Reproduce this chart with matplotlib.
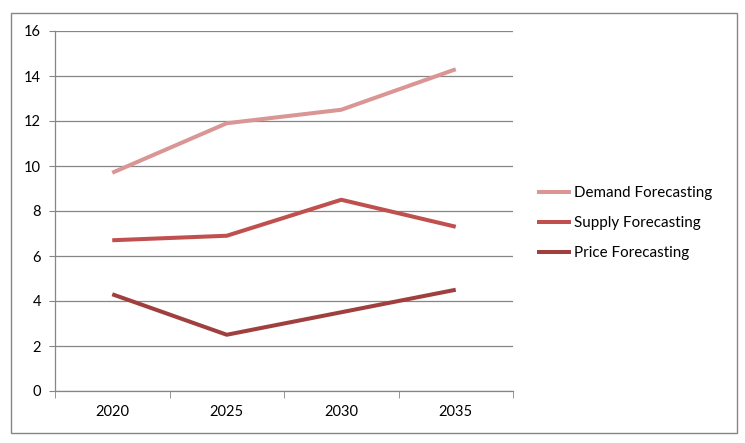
import matplotlib
matplotlib.use("Agg")
import matplotlib.pyplot as plt
from matplotlib.patches import Rectangle

years = ['2020', '2025', '2030', '2035']
demand = [9.7, 11.9, 12.5, 14.3]
supply = [6.7, 6.9, 8.5, 7.3]
price = [4.3, 2.5, 3.5, 4.5]
yticks = [0, 2, 4, 6, 8, 10, 12, 14, 16]

plt.rcParams['font.family'] = ['Lato', 'DejaVu Sans']
grey = '#868686'

fig = plt.figure(figsize=(7.45, 4.43), dpi=100)
# chart border
fig.patches.append(Rectangle((11 / 745, 10 / 443), 726 / 745, 420 / 443,
                             transform=fig.transFigure, fill=False,
                             edgecolor=grey, linewidth=1.0))

ax = fig.add_axes([55 / 745, 52 / 443, 458 / 745, 360 / 443])
x = range(len(years))
ax.plot(x, demand, color='#D99694', lw=2.9, label='Demand Forecasting', solid_capstyle='butt')
ax.plot(x, supply, color='#C0504D', lw=2.9, label='Supply Forecasting', solid_capstyle='butt')
ax.plot(x, price, color='#A0403E', lw=2.9, label='Price Forecasting', solid_capstyle='butt')

ax.set_xlim(-0.5, 3.5)
ax.set_ylim(0, 16)
ax.set_yticks(yticks)
ax.set_yticklabels([str(v) for v in yticks])
ax.set_xticks(list(x))
ax.set_xticklabels(years)
ax.set_xticks([-0.5, 0.5, 1.5, 2.5, 3.5], minor=True)
ax.tick_params(axis='x', which='major', length=0, pad=10, labelsize=10.5)
ax.tick_params(axis='x', which='minor', length=5, color=grey, direction='out')
ax.tick_params(axis='y', length=4, color=grey, direction='out', pad=6, labelsize=10.5)
ax.grid(axis='y', color=grey, lw=0.9)
ax.set_axisbelow(True)
for s in ['top', 'right']:
    ax.spines[s].set_visible(False)
for s in ['left', 'bottom']:
    ax.spines[s].set_color(grey)
    ax.spines[s].set_linewidth(0.9)

fig.legend(loc='center left', bbox_to_anchor=(523 / 745, 1 - 223 / 443),
           frameon=False, fontsize=10.9, handlelength=2.3, handletextpad=0.2,
           labelspacing=1.05)

fig.savefig('out.png', dpi=100)
